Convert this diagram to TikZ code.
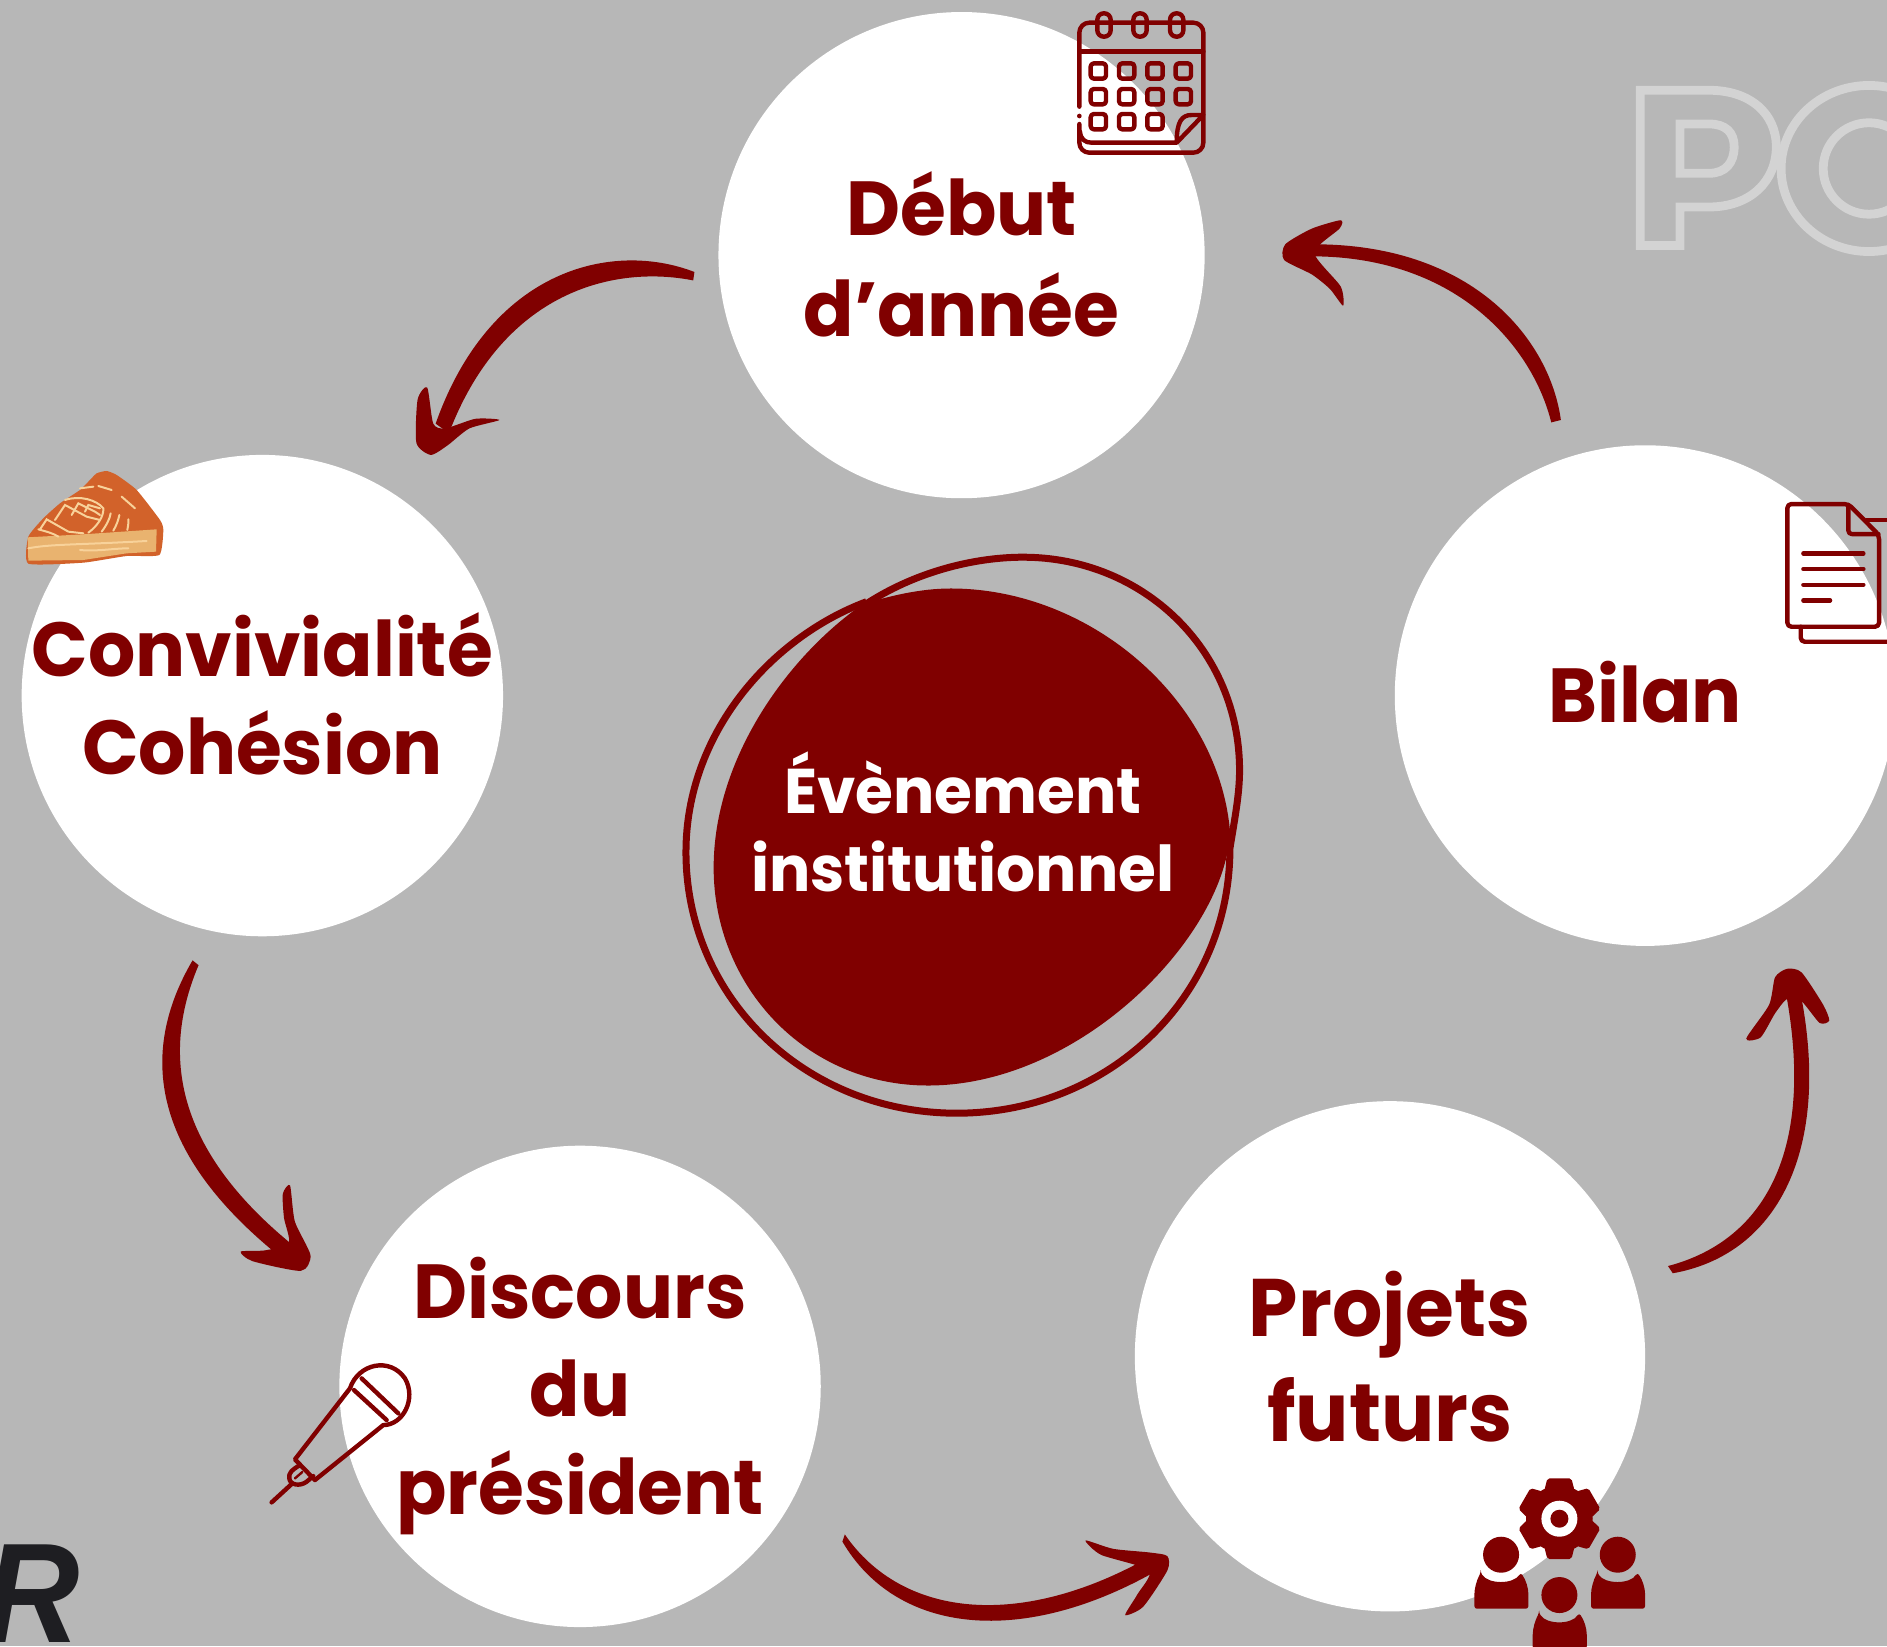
\documentclass[tikz,border=0pt]{standalone}
\usepackage{fontspec}
\setmainfont{Poppins}[FakeStretch=0.97]
\newfontfamily\rfont{Liberation Sans}[FakeStretch=0.93]
\usetikzlibrary{calc}
\definecolor{bgc}{HTML}{B7B7B7}
\definecolor{mar}{HTML}{800000}
\definecolor{wm}{HTML}{D3D3D3}
\definecolor{pieo}{HTML}{D2622A}
\definecolor{piec}{HTML}{E9B36F}
\definecolor{piel}{HTML}{F8D29A}
\definecolor{rc}{HTML}{1E1E22}
\tikzset{
  disc/.style={circle,fill=white,inner sep=0pt,minimum size=#1*0.6017pt*2},
  lab/.style={text=mar,font=\fontsize{38.3}{49}\selectfont\bfseries,align=center,inner sep=0pt},
  headfill/.style={fill=mar},
  ico/.style={draw=mar,line width=2.2pt,line cap=round,line join=round},
  wmk/.style={draw=wm,line width=4.4pt},
}
\begin{document}
\begin{tikzpicture}[x=0.6017pt,y=-0.6017pt]
\useasboundingbox (0,0) rectangle (1568,1367.8);
\clip (0,0) rectangle (1568,1367.8);
\fill[bgc] (0,0) rectangle (1568,1367.8);
% watermark
\draw[wmk] (1363,75) -- (1420,75) .. controls (1455,75) and (1476,95) .. (1476,122) .. controls (1476,150) and (1455,172) .. (1420,172) -- (1396,172) -- (1396,204) -- (1363,204) -- cycle;
\draw[wmk] (1396,103) -- (1420,103) .. controls (1434,103) and (1441,110) .. (1441,122) .. controls (1441,135) and (1434,144) .. (1420,144) -- (1396,144) -- cycle;
\draw[wmk] (1553,140) circle[x radius=73,y radius=69];
\draw[wmk] (1553,140) circle[x radius=38,y radius=38];
% discs
\node[disc=202] (debut) at (799,212) {};
\node[disc=200] (conv) at (218,578) {};
\node[disc=208] (bilan) at (1367,578) {};
\node[disc=212] (proj) at (1155,1127) {};
\node[disc=200] (disc) at (482,1152) {};
% centre
\fill[mar] (790,489) .. controls (905,489) and (1012,580) .. (1022,690) .. controls (1020,775) and (900,902) .. (771,902) .. controls (670,902) and (593,820) .. (593,721) .. controls (593,630) and (655,545) .. (717,502) .. controls (740,495) and (765,489) .. (790,489) -- cycle;
\draw[mar,line width=3.5pt] (718,503) .. controls (760,475) and (810,463) .. (850,463) .. controls (950,463) and (1030,540) .. (1030,640) .. controls (1030,660) and (1026,680) .. (1022,705) .. controls (1022,830) and (920,925) .. (795,925) .. controls (670,925) and (570,830) .. (570,708) .. controls (570,610) and (640,530) .. (720,500);
\node[text=white,font=\fontsize{31.6}{39}\selectfont\bfseries,align=center,inner sep=0pt] (ctr) at (800,683) {Évènement\\institutionnel};
% labels
\node[lab] (tdebut) at (799,211.5) {Début\\[1.8pt]d’année};
\node[lab] (tconv) at (218,576.5) {Convivialité\\Cohésion};
\node[lab] (tbilan) at (1367,575) {Bilan};
\node[lab,font=\fontsize{40.8}{49}\selectfont\bfseries] (tproj) at (1155,1127) {Projets\\[3.6pt]futurs};
\node[lab] (tdisc) at (482,1160) {Discours\\du\\président};
% arrows
\coordinate (a1s) at (577,226); \coordinate (a1e) at (362,352);
\coordinate (a2s) at (1297,349); \coordinate (a2e) at (1092,203);
\coordinate (a3s) at (160,798); \coordinate (a3e) at (240,1050);
\coordinate (a4s) at (702,1275); \coordinate (a4e) at (960,1291);
\coordinate (a5s) at (1386,1052); \coordinate (a5e) at (1482,815);
\fill[mar] (a1s) .. controls (510,200) and (408,222) .. (a1e) -- (373,360) .. controls (418,242) and (510,220) .. (576,233) -- cycle;
\fill[mar] (a2s) .. controls (1288,283) and (1225,203) .. (a2e) -- (1092,213) .. controls (1213,214) and (1274,290) .. (1289,351) -- cycle;
\fill[mar] (a3s) .. controls (115,875) and (124,960) .. (a3e) -- (250,1040) .. controls (148,960) and (132,880) .. (165,802) -- cycle;
\fill[mar] (a4s) .. controls (750,1345) and (850,1355) .. (a4e) -- (965,1303) .. controls (850,1370) and (745,1358) .. (700,1281) -- cycle;
\fill[mar] (a5s) .. controls (1470,1030) and (1510,950) .. (a5e) -- (1494,815) .. controls (1524,950) and (1480,1042) .. (1390,1058) -- cycle;
\fill[headfill] plot[smooth cycle,tension=.4] coordinates {(355,322) (347,332) (346,368) (358,378) (372,370) (390,356) (415,349) (395,348) (370,356) (360,352)};
\fill[headfill] plot[smooth cycle,tension=.4] coordinates {(1114,183) (1090,190) (1068,203) (1067,216) (1090,228) (1105,240) (1116,254) (1114,238) (1092,210) (1113,190)};
\fill[headfill] plot[smooth cycle,tension=.4] coordinates {(241,985) (235,992) (236,1012) (240,1033) (220,1039) (200,1040) (210,1048) (250,1056) (258,1043) (245,1015)};
\fill[headfill] plot[smooth cycle,tension=.4] coordinates {(902,1280) (915,1292) (955,1305) (945,1325) (935,1342) (950,1335) (970,1305) (970,1293) (955,1290) (925,1287)};
\fill[headfill] plot[smooth cycle,tension=.4] coordinates {(1451,863) (1463,862) (1475,842) (1485,830) (1497,832) (1512,850) (1520,848) (1515,835) (1497,808) (1485,805) (1475,812) (1470,835)};
% calendar
\begin{scope}[shift={(880.8,0)},x=0.16667pt,y=-0.16667pt,ico]
\draw[rounded corners=5pt] (58,320) -- (58,68) -- (430,68) -- (430,458) -- (58,458) -- (58,372);
\fill[mar] (58,348) circle (7);
\foreach \cx in {132,240,350} \draw[rounded corners=3.2pt] (\cx-20,40) rectangle (\cx+20,110);
\draw (58,155) -- (430,155);
\draw (60,395) .. controls (62,418) and (75,428) .. (95,428) -- (350,428) -- (430,345) -- (395,345) .. controls (365,345) and (350,365) .. (350,428);
\foreach \cx in {115,200,285,370} \foreach \cy in {213,290} \draw[rounded corners=1.6pt] (\cx-23,\cy-23) rectangle (\cx+23,\cy+23);
\foreach \cx in {115,200,285} \draw[rounded corners=1.6pt] (\cx-23,342) rectangle (\cx+23,388);
\end{scope}
% microphone
\begin{scope}[shift={(207.7,1113.5)},x=0.16667pt,y=-0.16667pt,ico,line width=2.2pt]
\draw (300,145) .. controls (325,70) and (420,50) .. (465,115) .. controls (500,175) and (460,255) .. (400,255) -- (195,420) -- (135,358) -- cycle;
\draw (335,115) -- (445,220);
\draw (312,150) -- (410,240);
\draw (150,375) .. controls (125,390) and (115,400) .. (118,415) .. controls (120,435) and (150,440) .. (170,425) -- (190,408);
\draw[line width=1.2pt] (135,415) -- (157,396);
\draw (125,432) -- (65,487);
\end{scope}
% gear and people
\begin{scope}[shift={(1188.3,1204.9)},x=0.16667pt,y=-0.16667pt]
\fill[mar] (388,206) circle (100);
\foreach \a in {0,60,...,300}
  \fill[mar,rounded corners=1pt,rotate around={\a:(388,206)}] (343,120) -- (352,85) -- (424,85) -- (433,120) -- cycle;
\fill[white] (388,206) circle (54);
\fill[mar] (388,206) circle (27);
\foreach \dx/\dy in {0/0,350/0,175/121}{
  \fill[mar] (213+\dx,314+\dy) circle (54);
  \fill[mar,rounded corners=1.3pt] (152+\dx,368+\dy) .. controls (175+\dx,403+\dy) and (250+\dx,403+\dy) .. (272+\dx,368+\dy) .. controls (288+\dx,390+\dy) and (295+\dx,415+\dy) .. (295+\dx,440+\dy) -- (295+\dx,476+\dy) -- (133+\dx,476+\dy) -- (133+\dx,440+\dy) .. controls (133+\dx,415+\dy) and (140+\dx,390+\dy) .. (152+\dx,368+\dy) -- cycle;
}
\end{scope}
% document
\begin{scope}[shift={(1470.8,407.2)},x=0.16667pt,y=-0.16667pt,ico]
\draw[rounded corners=2pt] (235,42) -- (52,42) -- (52,410) -- (327,410) -- (327,135) -- cycle;
\draw[rounded corners=1.7pt] (235,45) -- (235,132) -- (325,132);
\draw[rounded corners=2pt] (92,410) -- (92,455) -- (360,455);
\draw (290,90) -- (360,90);
\draw (100,190) -- (280,190);
\draw (100,237) -- (280,237);
\draw (100,284) -- (280,284);
\draw (100,331) -- (180,331);
\end{scope}
% pie
\begin{scope}[shift={(0,365.6)},x=0.16667pt,y=-0.16667pt]
\fill[pieo] plot[smooth cycle,tension=.3] coordinates {(85,290) (130,235) (180,190) (240,150) (265,125) (290,100) (320,93) (350,105) (410,150) (480,240) (490,270) (478,345) (380,348) (250,368) (85,371)};
\fill[piec] (83,292) -- (250,283) -- (470,268) -- (468,335) -- (380,340) -- (250,360) -- (85,362) -- cycle;
\begin{scope}[draw=piel,line width=1pt,line cap=round]
\draw (85,325) .. controls (150,312) and (230,315) .. (440,303);
\draw (240,330) .. controls (290,335) and (340,325) .. (385,325);
\draw (115,268) .. controls (140,275) and (160,280) .. (175,290);
\draw (120,268) -- (140,238) -- (205,275) -- (250,280);
\draw (165,240) -- (195,195) -- (260,230) -- (300,240);
\draw (215,225) -- (235,190) -- (285,215) -- (300,225);
\draw (255,215) -- (265,195) -- (300,205);
\draw (195,180) .. controls (240,165) and (290,180) .. (310,205) .. controls (312,230) and (290,260) .. (265,278);
\draw (305,275) .. controls (320,255) and (330,235) .. (332,220);
\draw (340,272) .. controls (350,255) and (355,240) .. (358,225);
\draw (382,270) .. controls (385,260) and (385,250) .. (385,238);
\draw (240,145) -- (280,140);
\draw (295,138) -- (335,150);
\draw (365,170) -- (405,205);
\end{scope}
\end{scope}
% letter
\node[text=rc,font=\rfont\fontsize{71}{71}\selectfont\bfseries\itshape,inner sep=0pt,anchor=base west] (rr) at (-13,1365) {R};
\end{tikzpicture}
\end{document}
